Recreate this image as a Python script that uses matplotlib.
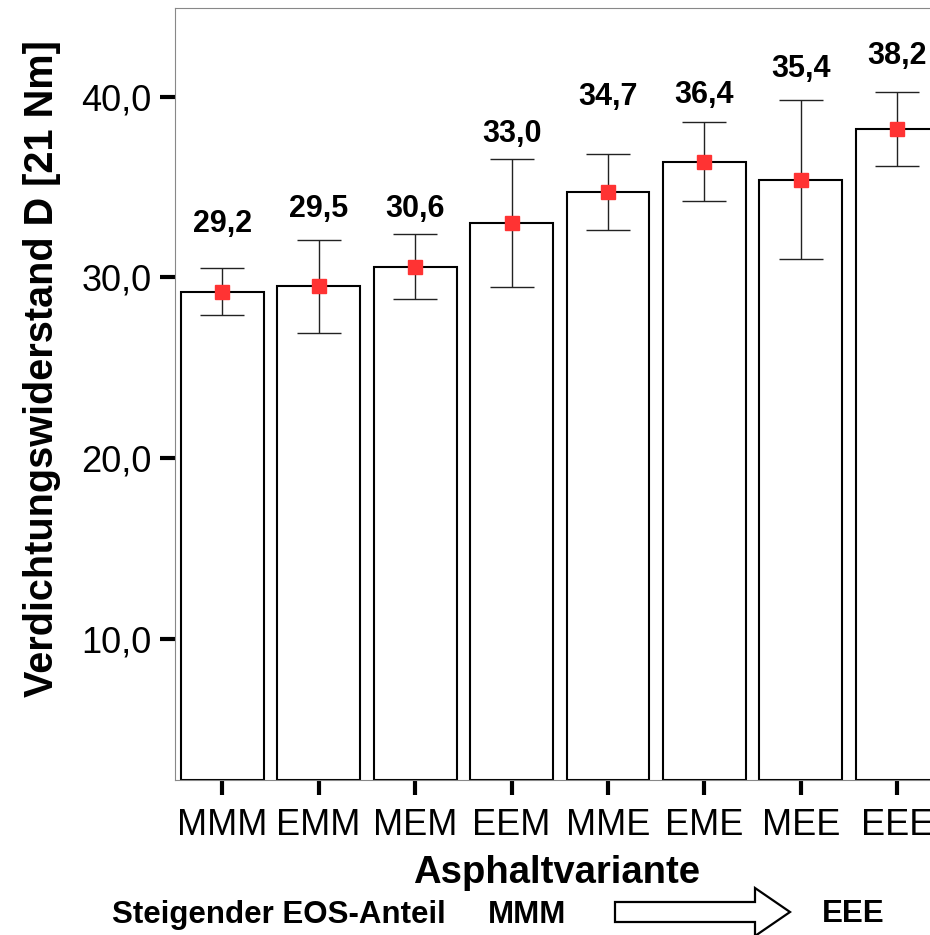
import matplotlib
matplotlib.use("Agg")
import matplotlib.pyplot as plt
from matplotlib.patches import Polygon
from matplotlib.ticker import FuncFormatter

plt.rcParams['font.family'] = ['Liberation Sans', 'DejaVu Sans']

# Mittelwerte und Streuung je Asphaltvariante
variants = ["MMM", "EMM", "MEM", "EEM", "MME", "EME", "MEE", "EEE"]
means = [29.2, 29.5, 30.6, 33.0, 34.7, 36.4, 35.4, 38.2]
errors = [1.3, 2.55, 1.8, 3.55, 2.1, 2.2, 4.4, 2.05]
y_ticks = [10, 20, 30, 40]

# Hoehe (Grundlinie) der Wertebeschriftungen
label_base = [32.5, 33.35, 33.35, 37.5, 39.55, 39.65, 41.1, 41.8]

W, H = 930, 935
fig = plt.figure(figsize=(W / 100, H / 100), dpi=100)
ax = fig.add_axes([175 / W, 1 - 780 / H, 769.5 / W, 772 / H])

ymin, ymax = 2.2, 44.9
x = list(range(len(variants)))

ax.bar(x, [m - ymin for m in means], bottom=ymin, width=0.86,
       color="white", edgecolor="black", linewidth=1.5, zorder=2)
ax.errorbar(x, means, yerr=errors, fmt="none", ecolor="#222222",
            elinewidth=1.0, capsize=16, capthick=1.0, zorder=3)
ax.plot(x, means, "s", color="#ff3333", markersize=10, zorder=4)

for xi, m, yb in zip(x, means, label_base):
    ax.text(xi, yb, f"{m:.1f}".replace(".", ","), ha="center", va="baseline",
            fontsize=22, fontweight="bold")

ax.set_xlim(-0.49, 7.49)
ax.set_ylim(ymin, ymax)
ax.set_xticks(x)
ax.set_xticklabels(variants)
ax.set_yticks(y_ticks)
ax.yaxis.set_major_formatter(FuncFormatter(lambda v, p: f"{v:.1f}".replace(".", ",")))

ax.tick_params(axis="both", direction="out", length=11, width=3, color="black",
               labelsize=26)
ax.tick_params(axis="y", pad=6)
ax.tick_params(axis="x", pad=9)
for s in ax.spines.values():
    s.set_color("#888888")
    s.set_linewidth(0.8)

fig.text(42 / W, 1 - 369 / H, "Verdichtungswiderstand D [21 Nm]", rotation=90,
         ha="center", va="center", fontsize=28.5, fontweight="bold")
fig.text(557 / W, 1 - 883 / H, "Asphaltvariante", ha="center", va="baseline",
         fontsize=27.5, fontweight="bold")
fig.text(279 / W, 1 - 923 / H, "Steigender EOS-Anteil", ha="center", va="baseline",
         fontsize=22.5, fontweight="bold")
fig.text(527 / W, 1 - 923 / H, "MMM", ha="center", va="baseline",
         fontsize=22.5, fontweight="bold")
fig.text(853 / W, 1 - 922 / H, "EEE", ha="center", va="baseline",
         fontsize=22.5, fontweight="bold")

# Pfeil von MMM nach EEE
arrow_px = [(615, 902), (755, 902), (755, 888), (790, 912),
            (755, 936), (755, 922), (615, 922)]
arrow = Polygon([(px / W, 1 - py / H) for px, py in arrow_px], closed=True,
                facecolor="white", edgecolor="black", linewidth=1.6,
                transform=fig.transFigure, clip_on=False)
fig.patches.append(arrow)

fig.savefig("out.png", dpi=100)
